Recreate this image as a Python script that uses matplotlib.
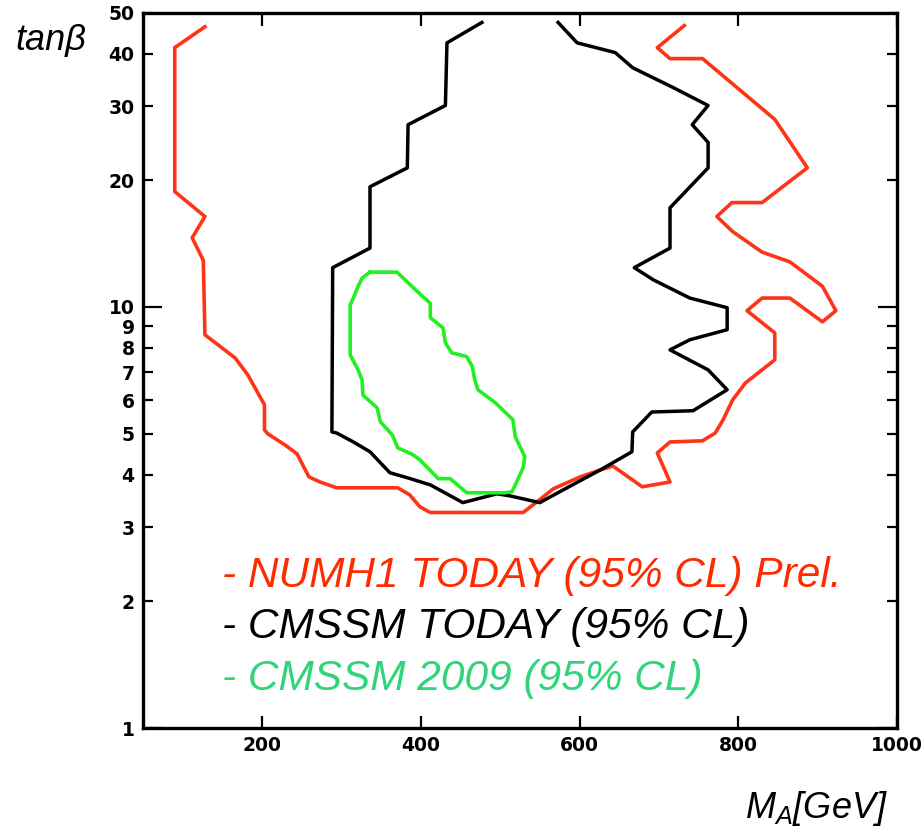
import matplotlib
matplotlib.use("Agg")
import matplotlib.pyplot as plt
from matplotlib.ticker import FixedLocator, FixedFormatter, NullFormatter

# contour points (M_A in GeV, tan beta)
numh1_ma = [128, 90, 90, 128, 112, 126, 128, 166, 182, 203, 203, 207, 229, 244, 259, 273,
            294, 371, 386, 399, 412, 529, 546, 567, 601, 626, 642, 679, 714, 698, 714, 755,
            771, 781, 793, 809, 846, 846, 811, 830, 865, 906, 923, 906, 865, 830, 793, 773,
            792, 830, 859, 887, 846, 755, 714, 698, 732]
numh1_tb = [46.3, 41.3, 18.8, 16.4, 14.6, 12.9, 8.59, 7.57, 6.90, 5.86, 5.11, 5.0, 4.70, 4.48, 3.95, 3.84,
            3.72, 3.72, 3.58, 3.35, 3.25, 3.25, 3.44, 3.70, 3.95, 4.10, 4.19, 3.74, 3.84, 4.50, 4.78, 4.81,
            5.02, 5.40, 6.02, 6.60, 7.49, 8.68, 9.8, 10.5, 10.5, 9.22, 9.8, 11.2, 12.8, 13.5, 15.1, 16.4,
            17.7, 17.7, 19.5, 21.4, 27.9, 38.9, 38.9, 41.3, 46.6]

cmssm_ma = [477, 433, 431, 384, 383, 336, 336, 289, 288, 294, 315, 336, 361, 383, 412, 453,
            496, 512, 550, 575, 626, 666, 667, 691, 743, 786, 762, 714, 739, 786, 786, 739,
            693, 669, 714, 714, 762, 762, 742, 762, 718, 667, 645, 597, 573]
cmssm_tb = [47.4, 42.4, 30.1, 27.1, 21.4, 19.3, 13.8, 12.4, 5.05, 5.02, 4.78, 4.53, 4.04, 3.93, 3.78, 3.43,
            3.60, 3.56, 3.43, 3.64, 4.10, 4.53, 5.05, 5.63, 5.67, 6.36, 7.09, 7.91, 8.36, 8.83, 9.96, 10.5,
            11.6, 12.4, 13.8, 17.2, 21.4, 24.6, 27.1, 30.1, 33.2, 37.0, 40.2, 42.4, 47.4]

cmssm09_ma = [336, 370, 393, 412, 412, 428, 431, 439, 449, 458, 465, 468, 472, 494, 516, 519,
              531, 529, 515, 506, 458, 437, 422, 399, 390, 371, 364, 349, 345, 327, 326, 321,
              311, 311, 315, 321, 326, 336]
cmssm09_tb = [12.1, 12.1, 11.0, 10.2, 9.43, 8.92, 8.22, 7.78, 7.70, 7.62, 7.21, 6.71, 6.36, 5.92, 5.40, 4.92,
              4.41, 4.15, 3.64, 3.62, 3.62, 3.91, 3.91, 4.33, 4.46, 4.63, 4.97, 5.34, 5.76, 6.18, 6.71, 7.09,
              7.70, 10.1, 10.5, 11.2, 11.7, 12.1]

y_ticks = [2, 3, 4, 5, 6, 7, 8, 9, 20, 30, 40, 50]
x_ticks = [200, 400, 600, 800, 1000]

legend_lines = ["- NUMH1 TODAY (95% CL) Prel.", "- CMSSM TODAY (95% CL)", "- CMSSM 2009 (95% CL)"]
legend_colors = ["#ff2a00", "black", "#30d47a"]

plt.rcParams['mathtext.fontset'] = 'custom'
plt.rcParams['mathtext.it'] = 'Liberation Sans:italic'
plt.rcParams['mathtext.rm'] = 'Liberation Sans:italic'

fig = plt.figure(figsize=(9.24, 8.34), dpi=100)
ax = fig.add_axes([143/924, 1-728/834, (897-143)/924, (728-12.7)/834])

ax.plot(numh1_ma, numh1_tb, color="#ff3318", lw=2.6)
ax.plot(cmssm_ma, cmssm_tb, color="black", lw=2.5)
ax.plot(cmssm09_ma, cmssm09_tb, color="#22f022", lw=2.6)

ax.set_yscale('log')
ax.set_xlim(50, 1000)
ax.set_ylim(1, 50)

ax.yaxis.set_major_locator(FixedLocator([1, 10]))
ax.yaxis.set_major_formatter(FixedFormatter(['1', '10']))
ax.yaxis.set_minor_locator(FixedLocator(y_ticks))
ax.yaxis.set_minor_formatter(FixedFormatter([str(v) for v in y_ticks]))
ax.xaxis.set_major_locator(FixedLocator(x_ticks))
ax.xaxis.set_minor_formatter(NullFormatter())

ax.tick_params(which='both', direction='in', top=True, right=True, width=1.6,
               labelsize=13.5, pad=6)
ax.tick_params(axis='y', which='major', length=14)
ax.tick_params(axis='y', which='minor', length=7)
ax.tick_params(axis='x', which='major', length=9)
for lab in ax.get_xticklabels() + ax.get_yticklabels() + ax.get_yticklabels(minor=True):
    lab.set_fontweight('bold')

for sp in ax.spines.values():
    sp.set_linewidth(2.4)

fig.text(15/924, 1-50/834, "tanβ", fontsize=26, style='italic',
         family='Liberation Sans', va='baseline')
fig.text(745/924, 1-818/834, r"$M_A[GeV]$", fontsize=26, va='baseline')

baselines = [587, 638, 690]
for txt, col, b in zip(legend_lines, legend_colors, baselines):
    fig.text(222/924, 1-b/834, txt, color=col, fontsize=30.5, style='italic',
             family='Liberation Sans', va='baseline')

fig.savefig("out.png", dpi=100)
